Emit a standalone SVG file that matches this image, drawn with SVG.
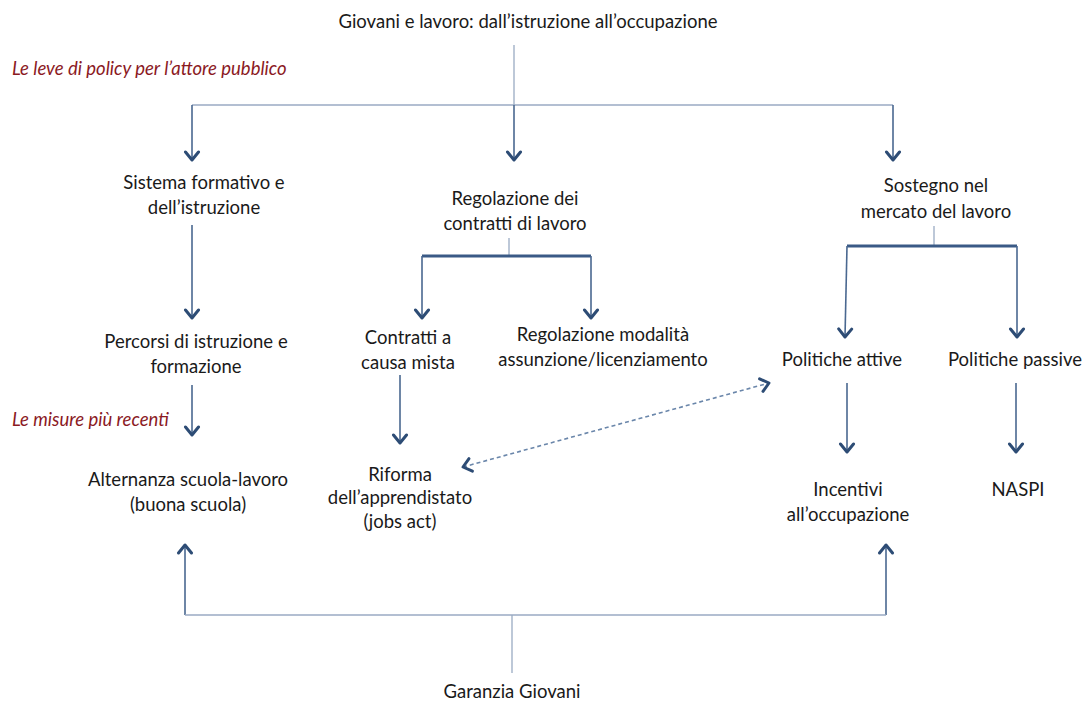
<svg xmlns="http://www.w3.org/2000/svg" width="1083" height="702" viewBox="0 0 1083 702">
<style>
.t{font-family:Lato,"Liberation Sans",sans-serif;font-size:18.5px;fill:#1a1a1a;text-anchor:middle}
.r{font-family:Lato,"Liberation Sans",sans-serif;font-size:18.5px;font-style:italic;fill:#8b1a1f}
.thin{stroke:#9aabc3;stroke-width:1.3;fill:none}
.shaft{stroke:#4a6890;stroke-width:1.6;fill:none}
.bar{stroke:#3a5a86;stroke-width:3.2;fill:none}
.dash{stroke:#6a86aa;stroke-width:1.6;stroke-dasharray:4 3;fill:none}
</style>
<defs>
<marker id="ah" markerUnits="userSpaceOnUse" viewBox="-12 -10 14 20" refX="0" refY="0" markerWidth="14" markerHeight="20" orient="auto-start-reverse">
<path d="M-8,-6.5 L0,0 L-8,6.5" fill="none" stroke="#2d4c75" stroke-width="3" stroke-linecap="round" stroke-linejoin="round"/>
</marker>
</defs>
<rect width="1083" height="702" fill="#ffffff"/>
<g id="connectors">
<path class="thin" d="M514,45 V105 M192,105 H893"/>
<path class="shaft" d="M192,105 V160" marker-end="url(#ah)"/>
<path class="shaft" d="M514,105 V160" marker-end="url(#ah)"/>
<path class="shaft" d="M893,105 V160" marker-end="url(#ah)"/>
<path class="shaft" d="M192,225 V318" marker-end="url(#ah)"/>
<path class="thin" d="M509,238 V256"/>
<path class="bar" d="M422,256 H591"/>
<path class="shaft" d="M422,256 V318" marker-end="url(#ah)"/>
<path class="shaft" d="M591,256 V318" marker-end="url(#ah)"/>
<path class="thin" d="M934,226 V246"/>
<path class="bar" d="M847,246 H1017"/>
<path class="shaft" d="M847,246 L845,337" marker-end="url(#ah)"/>
<path class="shaft" d="M1017,246 V337" marker-end="url(#ah)"/>
<path class="shaft" d="M192,385 V435" marker-end="url(#ah)"/>
<path class="shaft" d="M400,375 V443" marker-end="url(#ah)"/>
<path class="shaft" d="M847,383 V452" marker-end="url(#ah)"/>
<path class="shaft" d="M1016,383 V452" marker-end="url(#ah)"/>
<path class="dash" d="M463,467 L769,383" marker-start="url(#ah)" marker-end="url(#ah)"/>
<path class="shaft" d="M185,615 V545" marker-end="url(#ah)"/>
<path class="shaft" d="M886,615 V545" marker-end="url(#ah)"/>
<path class="thin" d="M185,615 H886 M512,615 V673"/>
</g>
<g id="title"><text class="t" x="528" y="28">Giovani e lavoro: dall’istruzione all’occupazione</text></g>
<g id="label-leve"><text class="r" x="12" y="75">Le leve di policy per l’attore pubblico</text></g>
<g id="label-misure"><text class="r" x="12" y="426">Le misure più recenti</text></g>
<g id="sistema"><text class="t" x="204" y="189">Sistema formativo e</text><text class="t" x="204" y="214">dell’istruzione</text></g>
<g id="regolazione"><text class="t" x="515" y="205">Regolazione dei</text><text class="t" x="515" y="230">contratti di lavoro</text></g>
<g id="sostegno"><text class="t" x="936" y="192">Sostegno nel</text><text class="t" x="936" y="218">mercato del lavoro</text></g>
<g id="percorsi"><text class="t" x="196" y="348">Percorsi di istruzione e</text><text class="t" x="196" y="373">formazione</text></g>
<g id="contratti"><text class="t" x="408" y="344">Contratti a</text><text class="t" x="408" y="369">causa mista</text></g>
<g id="modalita"><text class="t" x="603" y="341">Regolazione modalità</text><text class="t" x="603" y="366">assunzione/licenziamento</text></g>
<g id="attive"><text class="t" x="842" y="366">Politiche attive</text></g>
<g id="passive"><text class="t" x="1015" y="366">Politiche passive</text></g>
<g id="alternanza"><text class="t" x="188" y="486">Alternanza scuola-lavoro</text><text class="t" x="188" y="511">(buona scuola)</text></g>
<g id="riforma"><text class="t" x="400" y="481">Riforma</text><text class="t" x="400" y="504">dell’apprendistato</text><text class="t" x="400" y="528">(jobs act)</text></g>
<g id="incentivi"><text class="t" x="848" y="496">Incentivi</text><text class="t" x="848" y="521">all’occupazione</text></g>
<g id="naspi"><text class="t" x="1018" y="496">NASPI</text></g>
<g id="garanzia"><text class="t" x="512" y="698">Garanzia Giovani</text></g>
</svg>
